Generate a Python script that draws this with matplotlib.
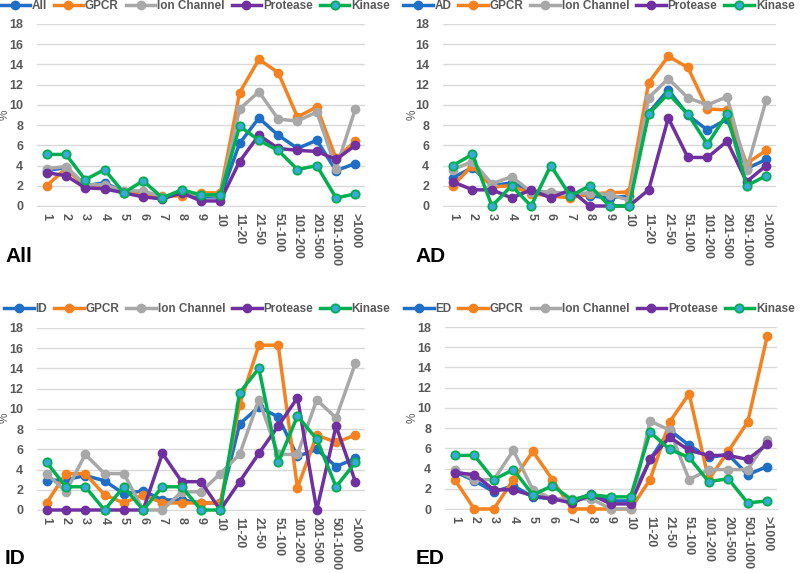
import matplotlib.pyplot as plt
import numpy as np

plt.rcParams['font.family'] = ['Liberation Sans', 'DejaVu Sans']

cats = ['1', '2', '3', '4', '5', '6', '7', '8', '9', '10', '11-20', '21-50',
        '51-100', '101-200', '201-500', '501-1000', '>1000']

# values in % per panel, order: overall, GPCR, Ion Channel, Protease, Kinase
all_all = [3.5, 3.8, 2.0, 2.3, 1.4, 1.2, 0.9, 1.3, 0.9, 0.9, 6.2, 8.7, 7.0, 5.7, 6.5, 3.5, 4.2]
all_gpcr = [2.0, 3.7, 2.0, 1.9, 1.4, 1.1, 1.0, 1.0, 1.3, 1.3, 11.2, 14.5, 13.2, 8.8, 9.8, 4.7, 6.4]
all_ion = [3.7, 3.9, 2.1, 2.1, 1.5, 1.5, 0.9, 1.3, 1.1, 1.0, 9.6, 11.3, 8.6, 8.4, 9.3, 3.7, 9.6]
all_prot = [3.3, 3.0, 1.8, 1.7, 1.3, 0.9, 0.7, 1.3, 0.5, 0.5, 4.4, 7.0, 5.7, 5.5, 5.4, 4.6, 6.0]
all_kin = [5.1, 5.1, 2.6, 3.6, 1.3, 2.5, 0.8, 1.6, 1.1, 1.1, 7.9, 6.5, 5.5, 3.6, 4.0, 0.8, 1.2]

ad_all = [2.8, 3.8, 2.0, 2.3, 1.5, 1.3, 1.2, 1.0, 0.8, 1.0, 9.2, 11.5, 9.0, 7.5, 8.6, 3.7, 4.6]
ad_gpcr = [2.0, 4.0, 1.9, 2.0, 1.2, 1.0, 0.8, 1.2, 1.3, 1.4, 12.2, 14.8, 13.7, 9.6, 9.5, 4.2, 5.5]
ad_ion = [3.6, 4.4, 2.2, 2.9, 1.4, 1.4, 1.2, 1.3, 1.1, 0.6, 10.7, 12.6, 10.7, 10.0, 10.8, 3.6, 10.5]
ad_prot = [2.4, 1.6, 1.6, 0.8, 1.6, 0.8, 1.6, 0.0, 0.0, 0.0, 1.6, 8.7, 4.8, 4.8, 6.4, 2.4, 4.0]
ad_kin = [4.0, 5.1, 0.0, 2.0, 0.0, 4.0, 1.0, 2.0, 0.0, 0.0, 9.1, 11.1, 9.1, 6.1, 9.1, 2.0, 3.0]

id_all = [2.9, 3.0, 3.4, 2.9, 1.6, 1.9, 1.0, 1.0, 0.7, 0.7, 8.5, 10.2, 9.2, 5.3, 6.0, 4.3, 5.1]
id_gpcr = [0.7, 3.6, 3.6, 1.5, 0.7, 1.5, 0.7, 0.7, 0.7, 0.7, 10.4, 16.3, 16.3, 2.2, 7.4, 6.7, 7.4]
id_ion = [3.6, 1.8, 5.5, 3.6, 3.6, 0.0, 0.0, 1.8, 1.8, 3.6, 5.5, 10.9, 5.5, 5.5, 10.9, 9.1, 14.5]
id_prot = [0.0, 0.0, 0.0, 0.0, 0.0, 0.0, 5.6, 2.8, 2.8, 0.0, 2.8, 5.6, 8.3, 11.1, 0.0, 8.3, 2.8]
id_kin = [4.7, 2.3, 2.3, 0.0, 2.3, 0.0, 2.3, 2.3, 0.0, 0.0, 11.6, 14.0, 4.7, 9.3, 7.0, 2.3, 4.7]

ed_all = [3.7, 2.8, 1.7, 2.3, 1.2, 1.0, 0.8, 1.5, 0.8, 0.8, 4.9, 7.8, 6.3, 5.1, 5.4, 3.4, 4.2]
ed_gpcr = [2.9, 0.0, 0.0, 2.9, 5.7, 2.9, 0.0, 0.0, 0.0, 0.0, 2.9, 8.6, 11.4, 2.9, 5.7, 8.6, 17.1]
ed_ion = [3.9, 2.9, 2.9, 5.8, 1.9, 1.0, 1.0, 1.0, 0.0, 0.0, 8.7, 7.8, 2.9, 3.9, 3.9, 3.9, 6.8]
ed_prot = [3.6, 3.4, 1.9, 1.9, 1.3, 1.0, 0.6, 1.4, 0.5, 0.5, 4.9, 7.1, 5.8, 5.3, 5.3, 4.9, 6.4]
ed_kin = [5.3, 5.3, 2.9, 3.9, 1.4, 2.3, 0.9, 1.4, 1.2, 1.2, 7.6, 5.9, 5.1, 2.7, 3.0, 0.6, 0.8]

names = ['GPCR', 'Ion Channel', 'Protease', 'Kinase']
colors = ['#1f6fc6', '#f5821f', '#a8a8a8', '#7030a0', '#00b050']
txt = '#595959'

# name, series, axes box (px: left, top, right, bottom), legend start, "%" pos, panel label pos
panels = [
    ('All', [all_all, all_gpcr, all_ion, all_prot, all_kin], (37, 24, 365, 206), (0, 6), (5, 115), (5, 256)),
    ('AD', [ad_all, ad_gpcr, ad_ion, ad_prot, ad_kin], (443, 24, 776, 206), (403, 6), (413, 115), (415, 256)),
    ('ID', [id_all, id_gpcr, id_ion, id_prot, id_kin], (37, 328, 365, 510), (4, 309), (5, 418), (5, 559)),
    ('ED', [ed_all, ed_gpcr, ed_ion, ed_prot, ed_kin], (445, 327, 777, 509), (404, 309), (413, 418), (416, 558)),
]

W, H = 800, 573
fig = plt.figure(figsize=(8, 5.73), dpi=100)
x = np.arange(len(cats))

for label, series, (x0, y0, x1, y1), (lx, ly), (px, py), (tx, ty) in panels:
    ax = fig.add_axes([x0 / W, 1 - y1 / H, (x1 - x0) / W, (y1 - y0) / H])
    labels = [label] + names
    for i, s in enumerate(series):
        if i == 4:
            ax.plot(x, s, color=colors[i], lw=2.5, marker='o', ms=6,
                    mfc='#3aa8db', mec=colors[i], mew=1.3, label=labels[i], clip_on=False, zorder=3 + i)
        else:
            ax.plot(x, s, color=colors[i], lw=2.5, marker='o', ms=6,
                    label=labels[i], clip_on=False, zorder=3 + i)
    ax.set_xlim(-0.5, len(cats) - 0.5)
    ax.set_ylim(0, 18)
    ax.set_yticks(range(0, 19, 2))
    ax.set_xticks(x)
    ax.set_xticklabels(cats, rotation=-90, fontsize=9, color=txt, fontweight='bold')
    ax.tick_params(axis='y', labelsize=9, colors=txt, length=0, pad=10)
    ax.tick_params(axis='x', length=0, pad=5, colors=txt)
    for t in ax.get_yticklabels():
        t.set_fontweight('bold')
    ax.grid(axis='y', color='#d9d9d9', lw=1)
    ax.set_axisbelow(True)
    for sp in ['top', 'right', 'left']:
        ax.spines[sp].set_visible(False)
    ax.spines['bottom'].set_color('#d9d9d9')
    fig.text(px / W, 1 - py / H, '%', color=txt, fontsize=8.5, rotation=90,
             ha='center', va='center')
    leg = ax.legend(loc='center left', bbox_to_anchor=(lx / W, 1 - ly / H),
                    bbox_transform=fig.transFigure, ncol=5, frameon=False,
                    fontsize=8.5, handlelength=2.5, handletextpad=0.15, columnspacing=0.6,
                    borderaxespad=0, borderpad=0)
    for t in leg.get_texts():
        t.set_color(txt)
        t.set_fontweight('bold')
    fig.text(tx / W, 1 - ty / H, label, fontsize=15, fontweight='bold',
             ha='left', va='center')

fig.savefig('out.png', dpi=100)
